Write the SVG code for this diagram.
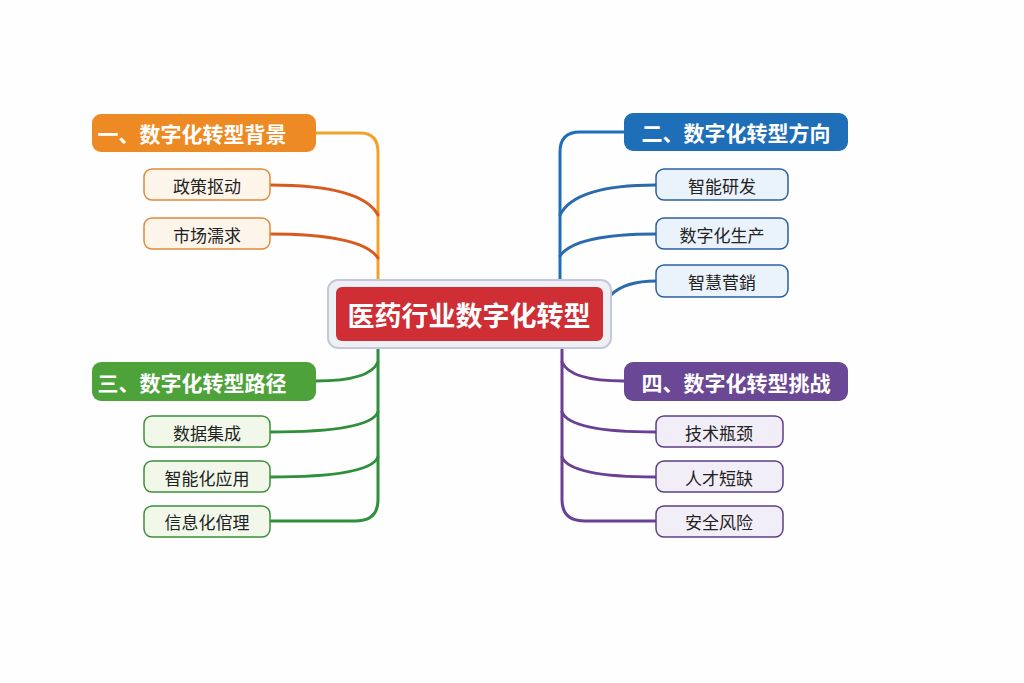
<svg xmlns="http://www.w3.org/2000/svg" width="1024" height="683" viewBox="0 0 1024 683">
<style>
text{font-family:"Noto Sans CJK SC","Noto Sans",sans-serif;text-anchor:middle;dominant-baseline:central}
.h{font-size:21px;font-weight:bold;fill:#fff}
.c{font-size:17px;fill:#222}
.l{fill:none;stroke-width:3;stroke-linecap:round}
</style>
<rect width="1024" height="683" fill="#fefefe"/>
<g id="connectors">
<path class="l" stroke="#f0a22a" d="M316 133 H360 Q378 133 378 152 V282"/>
<path class="l" stroke="#d95a1e" d="M270 185 Q362 185 378 215"/>
<path class="l" stroke="#d95a1e" d="M270 234 Q362 234 378 258"/>
<path class="l" stroke="#2f8f3a" d="M378 348 V500 Q378 521 355 521 H270"/>
<path class="l" stroke="#2f8f3a" d="M316 381 Q370 381 378 362"/>
<path class="l" stroke="#2f8f3a" d="M270 432 Q370 432 378 412"/>
<path class="l" stroke="#2f8f3a" d="M270 477 Q370 477 378 457"/>
<path class="l" stroke="#1f6fb8" d="M624 132 H580 Q560 132 560 152 V282"/>
<path class="l" stroke="#2b6aac" d="M656 185 Q575 185 560 215"/>
<path class="l" stroke="#2b6aac" d="M656 234 Q575 234 560 256"/>
<path class="l" stroke="#2b6aac" d="M656 281 Q625 281 611 295"/>
<path class="l" stroke="#6a3f94" d="M562 348 V500 Q562 521 585 521 H656"/>
<path class="l" stroke="#6a3f94" d="M624 381 Q570 381 562 362"/>
<path class="l" stroke="#6a3f94" d="M656 432 Q570 432 562 412"/>
<path class="l" stroke="#6a3f94" d="M656 477 Q570 477 562 457"/>
</g>
<g id="center"><rect x="328" y="280" width="283" height="68" rx="10" fill="#eef0f6" stroke="#c4c8d8" stroke-width="2"/><rect x="336" y="287" width="267" height="54" rx="6" fill="#cf2e35"/><text x="469" y="314" style="font-size:27px;font-weight:bold;fill:#fff">医药行业数字化转型</text></g>
<g id="h1"><rect x="92" y="114" width="224" height="38" rx="9" fill="#ee8a24"/><text class="h" x="192" y="133">一、数字化转型背景</text></g>
<g id="h2"><rect x="624" y="113" width="224" height="38" rx="9" fill="#1f6fb8"/><text class="h" x="736" y="132">二、数字化转型方向</text></g>
<g id="h3"><rect x="92" y="362" width="224" height="39" rx="9" fill="#4ea23a"/><text class="h" x="192" y="382">三、数字化转型路径</text></g>
<g id="h4"><rect x="624" y="362" width="224" height="39" rx="9" fill="#6a4895"/><text class="h" x="736" y="382">四、数字化转型挑战</text></g>
<g id="o1"><rect x="144" y="169" width="126" height="31" rx="8" fill="#fdf5ea" stroke="#e08a3a" stroke-width="1.5"/><text class="c" x="207" y="185">政策抠动</text></g>
<g id="o2"><rect x="144" y="218" width="126" height="31" rx="8" fill="#fdf5ea" stroke="#e08a3a" stroke-width="1.5"/><text class="c" x="207" y="234">市场濡求</text></g>
<g id="b1"><rect x="656" y="169" width="132" height="31" rx="8" fill="#eaf2fb" stroke="#2b5f9e" stroke-width="1.5"/><text class="c" x="722" y="185">智能研发</text></g>
<g id="b2"><rect x="656" y="218" width="132" height="31" rx="8" fill="#eaf2fb" stroke="#2b5f9e" stroke-width="1.5"/><text class="c" x="722" y="234">数字化生产</text></g>
<g id="b3"><rect x="656" y="265" width="132" height="32" rx="8" fill="#eaf2fb" stroke="#2b5f9e" stroke-width="1.5"/><text class="c" x="722" y="281">智慧菅銷</text></g>
<g id="g1"><rect x="144" y="416" width="126" height="31" rx="8" fill="#f1f8ea" stroke="#3d8f3a" stroke-width="1.5"/><text class="c" x="207" y="432">数据集成</text></g>
<g id="g2"><rect x="144" y="461" width="126" height="31" rx="8" fill="#f1f8ea" stroke="#3d8f3a" stroke-width="1.5"/><text class="c" x="207" y="477">智能化应用</text></g>
<g id="g3"><rect x="144" y="506" width="126" height="31" rx="8" fill="#f1f8ea" stroke="#3d8f3a" stroke-width="1.5"/><text class="c" x="207" y="521">信息化倌理</text></g>
<g id="p1"><rect x="656" y="416" width="127" height="31" rx="8" fill="#f2eef8" stroke="#5c3f86" stroke-width="1.5"/><text class="c" x="719" y="432">技术瓶颈</text></g>
<g id="p2"><rect x="656" y="461" width="127" height="31" rx="8" fill="#f2eef8" stroke="#5c3f86" stroke-width="1.5"/><text class="c" x="719" y="477">人才短缺</text></g>
<g id="p3"><rect x="656" y="506" width="127" height="31" rx="8" fill="#f2eef8" stroke="#5c3f86" stroke-width="1.5"/><text class="c" x="719" y="521">安全风险</text></g>
</svg>
